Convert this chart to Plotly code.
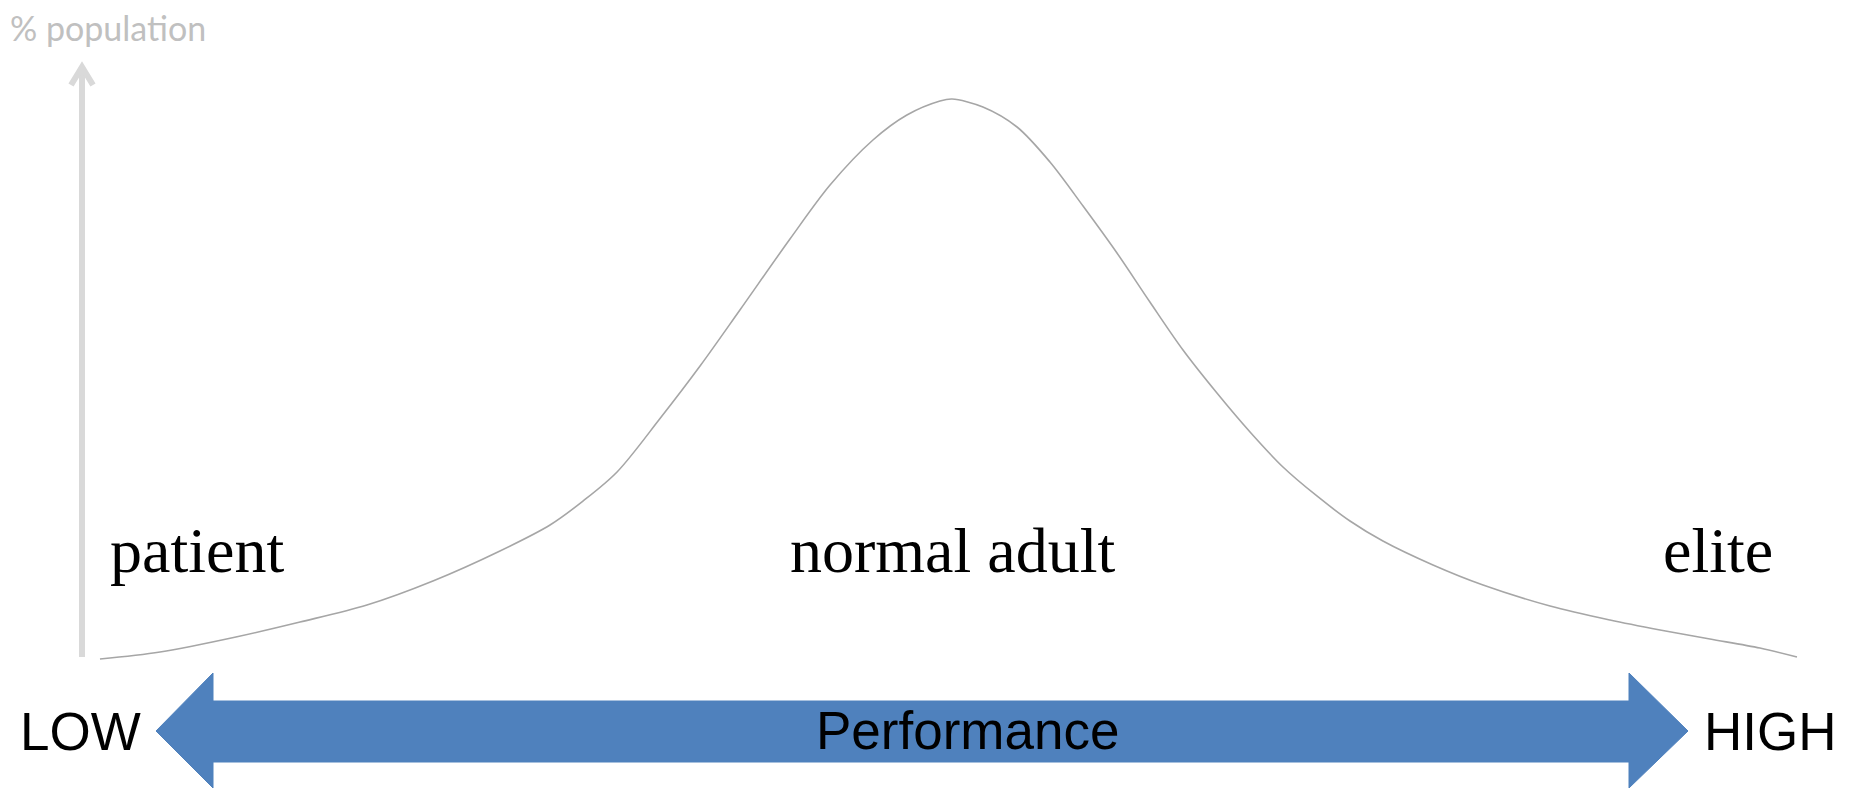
import plotly.graph_objects as go

# bell-shaped distribution of performance
performance = [0, 3.54, 8.01, 11.79, 15.73, 19.62, 23.57, 26.52, 28.46, 30.47,
               32.99, 35.36, 37.71, 40.66, 43.02, 45.55, 47.55, 49.50, 50.21,
               52.03, 54.04, 55.98, 57.93, 59.93, 61.87, 63.82, 65.82, 67.77,
               69.71, 71.71, 73.66, 75.60, 78.55, 81.50, 85.45, 88.98, 91.93,
               94.87, 97.82, 100]
population = [0, 1.25, 3.93, 6.61, 9.64, 13.93, 19.29, 23.93, 28.2, 33.4,
              42.9, 52.32, 62.32, 75.0, 84.64, 92.68, 97.14, 99.64, 100,
              98.57, 95.0, 88.75, 80.89, 72.5, 63.75, 55.18, 47.5, 40.54,
              34.29, 29.11, 24.64, 21.07, 16.79, 13.21, 9.46, 6.96, 5.18,
              3.57, 1.96, 0.36]

group_labels = ["patient", "normal adult", "elite"]
end_labels = ["LOW", "HIGH"]
axis_label = "Performance"
y_label = "% population"

PAGE_W, PAGE_H = 1854, 790
OFF = 8  # default body margin of the html page
W, H = PAGE_W - OFF, PAGE_H - OFF
BLUE = "#4f81bd"
GREY_AXIS = "#d9d9d9"


def px(x):
    return (x - OFF) / W


def py(y):
    return 1 - (y - OFF) / H


fig = go.Figure()
fig.add_trace(go.Scatter(
    x=performance, y=population,
    mode="lines",
    line=dict(color="#a6a6a6", width=1.6, shape="spline", smoothing=0.9),
    hoverinfo="skip",
    showlegend=False,
))

shapes = []
# y axis arrow (light grey, open chevron head)
shapes.append(dict(type="line", xref="paper", yref="paper",
                   x0=px(82), y0=py(657), x1=px(82), y1=py(68),
                   line=dict(color=GREY_AXIS, width=6)))
shapes.append(dict(type="path", xref="paper", yref="paper",
                   path=f"M {px(71)},{py(85)} L {px(82)},{py(67)} L {px(93)},{py(85)}",
                   line=dict(color=GREY_AXIS, width=6)))

# double-headed blue performance arrow
pts = [(156, 731), (213, 673), (213, 701), (1629, 701), (1629, 673), (1688, 731),
       (1629, 788), (1629, 762), (213, 762), (213, 788)]
path = "M " + " L ".join(f"{px(a)},{py(b)}" for a, b in pts) + " Z"
shapes.append(dict(type="path", xref="paper", yref="paper", path=path,
                   fillcolor=BLUE, line=dict(color=BLUE, width=1)))

serif = dict(family="Liberation Serif, Times New Roman, serif", size=64, color="black")
sans = dict(family="Liberation Sans, Arial, sans-serif", size=53, color="black")

annotations = [
    dict(text=y_label, x=px(8), y=py(27), xanchor="left", yanchor="middle",
         font=dict(family="Lato, Calibri, sans-serif", size=34, color="#c0c0c0")),
    dict(text=group_labels[0], x=px(108), y=py(550), xanchor="left", yanchor="middle", font=serif),
    dict(text=group_labels[1], x=px(952), y=py(550), xanchor="center", yanchor="middle", font=serif),
    dict(text=group_labels[2], x=px(1775), y=py(550), xanchor="right", yanchor="middle", font=serif),
    dict(text=end_labels[0], x=px(80), y=py(731), xanchor="center", yanchor="middle", font=sans),
    dict(text=end_labels[1], x=px(1770), y=py(731), xanchor="center", yanchor="middle", font=sans),
    dict(text=axis_label, x=px(968), y=py(730), xanchor="center", yanchor="middle", font=sans),
]
for a in annotations:
    a.update(xref="paper", yref="paper", showarrow=False)

# data units: performance 0..100 spans page px 100..1797, population 0..100 spans page py 659..98
fig.update_layout(
    width=W, height=H,
    margin=dict(l=0, r=0, t=0, b=0),
    paper_bgcolor="white",
    plot_bgcolor="white",
    shapes=shapes,
    annotations=annotations,
    xaxis=dict(range=[-5.42, 103.36], visible=False, fixedrange=True),
    yaxis=dict(range=[-23.39, 116.25], visible=False, fixedrange=True),
)

fig.write_html("out.html", config={"displayModeBar": False})
